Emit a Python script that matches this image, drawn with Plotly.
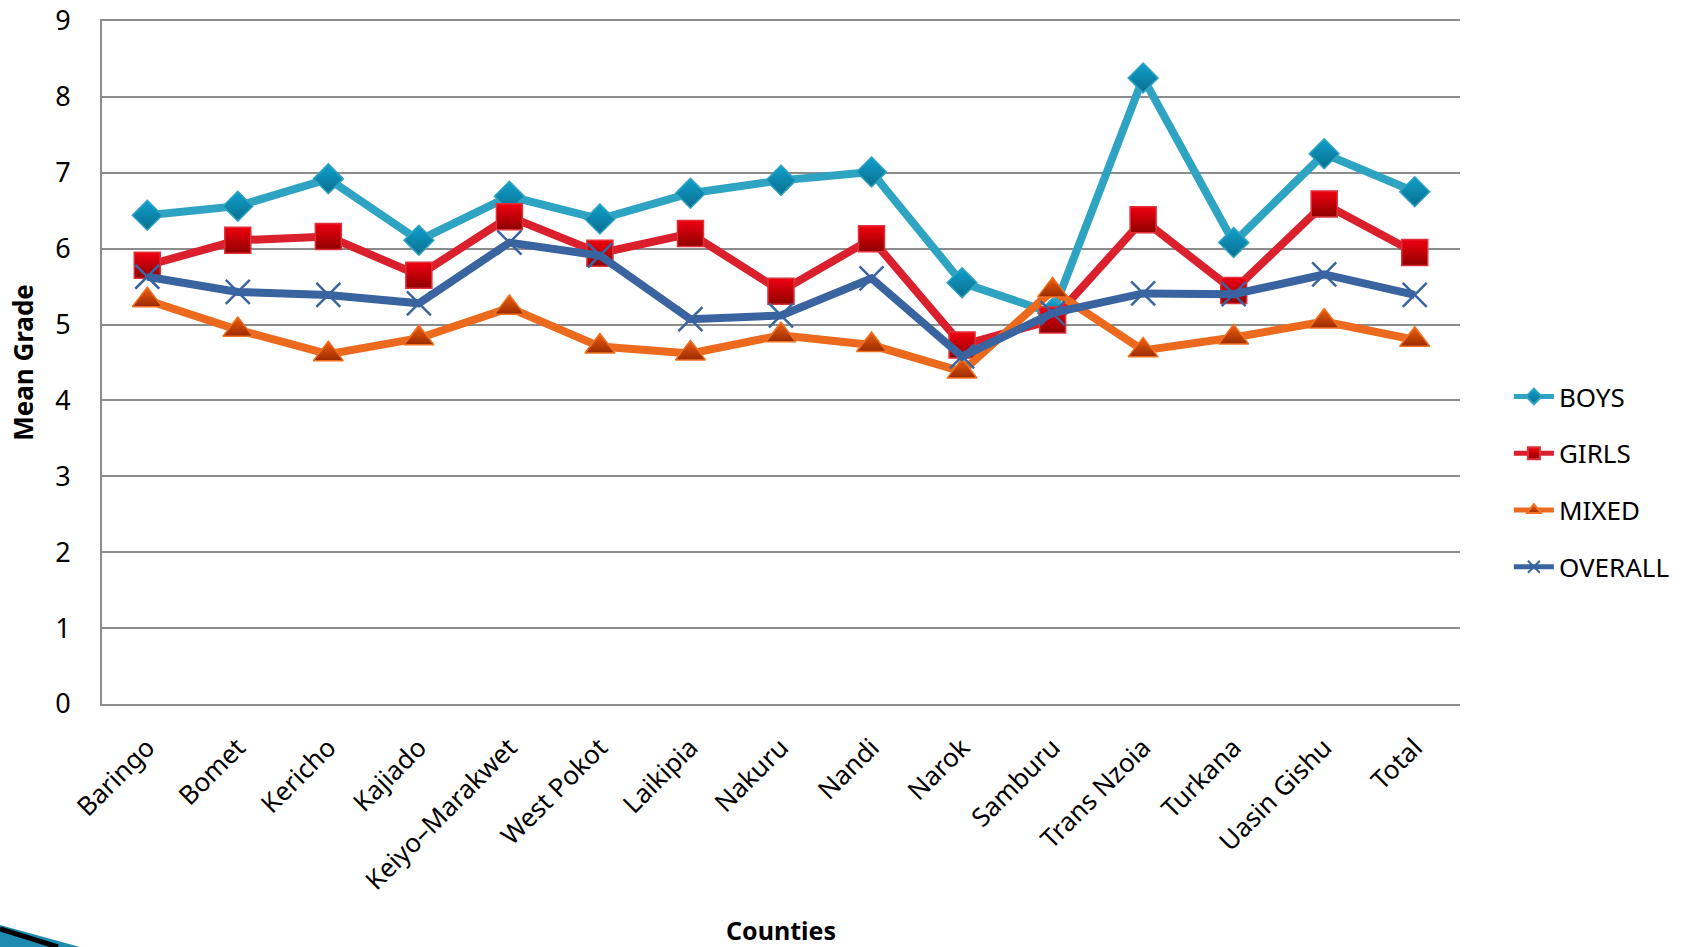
import plotly.graph_objects as go

counties = ["Baringo", "Bomet", "Kericho", "Kajiado", "Keiyo–Marakwet", "West Pokot",
            "Laikipia", "Nakuru", "Nandi", "Narok", "Samburu", "Trans Nzoia",
            "Turkana", "Uasin Gishu", "Total"]

boys = [6.44, 6.56, 6.92, 6.11, 6.69, 6.39, 6.73, 6.90, 7.01, 5.55, 5.15, 8.25, 6.08, 7.25, 6.75]
girls = [5.78, 6.11, 6.16, 5.65, 6.42, 5.94, 6.20, 5.44, 6.13, 4.73, 5.06, 6.38, 5.45, 6.59, 5.95]
mixed = [5.32, 4.93, 4.61, 4.82, 5.22, 4.71, 4.62, 4.86, 4.73, 4.38, 5.45, 4.66, 4.83, 5.04, 4.80]
overall = [5.63, 5.43, 5.39, 5.28, 6.08, 5.91, 5.07, 5.12, 5.61, 4.58, 5.15, 5.41, 5.40, 5.66, 5.39]

W, H = 1689, 947
L, R, T, B = 102, 229, 21, 243

FONT = "Noto Sans"

series = [
    ("BOYS", boys, "#2EA3C2", dict(symbol="diamond", size=23, color="#0FA0CC",
                                   gradient=dict(type="vertical", color="#0A6E8E"),
                                   line=dict(color="#2EA3C2", width=1.5))),
    ("GIRLS", girls, "#DA1F2D", dict(symbol="square", size=26, color="#F00010",
                                     gradient=dict(type="vertical", color="#8E0000"),
                                     line=dict(color="#E0303A", width=1.5))),
    ("MIXED", mixed, "#EC6A1E", dict(symbol="triangle-up", size=26, color="#F06010",
                                     gradient=dict(type="vertical", color="#9A2A00"),
                                     line=dict(color="#F07020", width=1.5))),
    ("OVERALL", overall, "#3A64A0", dict(symbol="x-thin", size=24, color="#3A64A0",
                                         line=dict(color="#3A64A0", width=2.5))),
]

fig = go.Figure()
for name, vals, lc, mk in series:
    fig.add_trace(go.Scatter(
        x=counties, y=vals, name=name, mode="lines+markers",
        line=dict(color=lc, width=8), marker=mk, legendgroup=name,
    ))

# decorative swoosh in the bottom-left corner
def px(x):
    return (x - L) / (W - L - R)

def py(y):
    return (H - B - y) / (H - T - B)

fig.add_shape(type="path", xref="paper", yref="paper",
              path=f"M {px(0)},{py(925)} L {px(80)},{py(947)} L {px(0)},{py(947)} Z",
              fillcolor="#1E8CB0", line=dict(width=0), layer="above")
fig.add_shape(type="line", xref="paper", yref="paper",
              x0=px(0), y0=py(929), x1=px(58), y1=py(947),
              line=dict(color="#000000", width=5), layer="above")

fig.update_layout(
    width=W, height=H,
    margin=dict(l=L, r=R, t=T, b=B, pad=0, autoexpand=False),
    paper_bgcolor="white", plot_bgcolor="white",
    font=dict(family=FONT, size=26, color="black"),
    showlegend=True,
    legend=dict(x=1.036, y=0.325, xanchor="left", yanchor="middle",
                font=dict(family=FONT, size=26), tracegroupgap=20,
                bgcolor="rgba(0,0,0,0)", itemwidth=40, itemsizing="constant"),
    xaxis=dict(
        automargin=False,
        showgrid=False, showline=True, linecolor="#8C8C8C", linewidth=2, mirror=True,
        tickangle=-45, ticks="", ticklabelstandoff=16,
        tickfont=dict(family=FONT, size=26),
        title=dict(text="<b>Counties</b>", font=dict(family=FONT, size=25), standoff=30),
        range=[-0.5, 14.5],
    ),
    yaxis=dict(
        automargin=False,
        range=[0, 9], dtick=1, showgrid=True, gridcolor="#8C8C8C", gridwidth=1.5,
        showline=True, linecolor="#8C8C8C", linewidth=2, zeroline=False,
        ticks="", ticklabelstandoff=24,
        tickfont=dict(family=FONT, size=27),
        title=dict(text="<b>Mean Grade</b>", font=dict(family=FONT, size=26), standoff=14),
    ),
)

fig.write_html("out.html")
